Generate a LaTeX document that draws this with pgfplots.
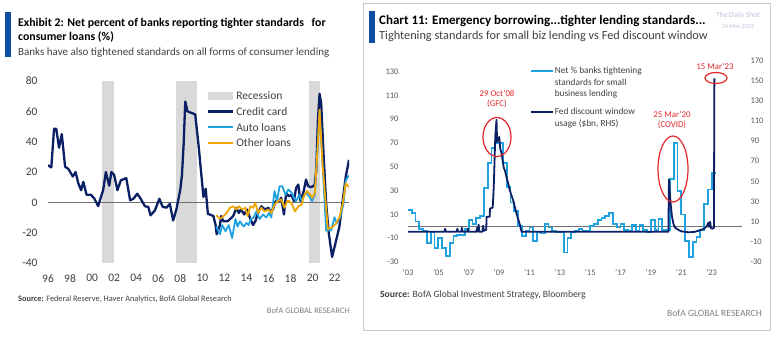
\documentclass[border=0pt]{standalone}
\usepackage{fontspec}
\setmainfont{Carlito}
\usepackage{pgfplots}
\pgfplotsset{compat=1.18}
\definecolor{navy}{HTML}{0B1F65}
\definecolor{sky}{HTML}{1FA3E0}
\definecolor{gold}{HTML}{F0A800}
\definecolor{recg}{HTML}{D9D9D9}
\definecolor{bofablue}{HTML}{0A4DA2}
\definecolor{annred}{HTML}{E3262B}
\definecolor{tickgray}{HTML}{404040}
\definecolor{rtick}{HTML}{595959}
\definecolor{zerogray}{HTML}{707070}
\definecolor{framegray}{HTML}{C8C8C8}
\definecolor{wmark}{HTML}{B8C4D6}
\pgfplotsset{
  recleg/.style={legend image code/.code={\fill[recg] (0bp,-4bp) rectangle (25bp,4bp);}},
  lineleg/.style={legend image code/.code={\draw[##1] (0bp,0bp) -- (25bp,0bp);}},
  rlineleg/.style={legend image code/.code={\draw[##1] (0bp,0bp) -- (22bp,0bp);}},
}
\newcommand{\lstrut}{\rule[-4bp]{0pt}{15.7bp}}
\newcommand{\rstrut}{\rule[-3bp]{0pt}{11.5bp}}
\newcommand{\rstrutx}{\rule[-9.5bp]{0pt}{18bp}}
\begin{document}
\begin{tikzpicture}
\path[use as bounding box] (0,0) rectangle (780bp,-337bp);
\fill[white] (0,0) rectangle (780bp,-337bp);
% ---------------- left panel ----------------
\fill[bofablue] (5bp,-12bp) rectangle (11bp,-57bp);
\node[anchor=base west, inner sep=0pt, font=\fontsize{11.8bp}{13bp}\selectfont\bfseries] at (18bp,-26bp) {Exhibit 2: Net percent of banks reporting tighter standards\hspace{5bp} for};
\node[anchor=base west, inner sep=0pt, font=\fontsize{11.8bp}{13bp}\selectfont\bfseries] at (18bp,-40bp) {consumer loans (\%)};
\node[anchor=base west, inner sep=0pt, text=tickgray, font=\fontsize{11bp}{13bp}\selectfont] at (18bp,-55bp) {Banks have also tightened standards on all forms of consumer lending};
\node[anchor=base west, inner sep=0pt, text=tickgray, font=\fontsize{8.3bp}{10bp}\selectfont] at (18bp,-301bp) {\textbf{Source:} Federal Reserve, Haver Analytics, BofA Global Research};
\node[anchor=base east, inner sep=0pt, text=gray, font=\fontsize{8.4bp}{10bp}\selectfont] at (350bp,-313bp) {BofA GLOBAL RESEARCH};

\begin{axis}[
  at={(48bp,-263bp)}, anchor=south west, scale only axis,
  width=301bp, height=182bp,
  xmin=1996, xmax=2023.3, ymin=-40, ymax=80,
  axis line style={draw=none}, major tick length=0pt,
  xtick={1996,1998,...,2022},
  xticklabels={96,98,00,02,04,06,08,10,12,14,16,18,20,22},
  ytick={-40,-20,0,20,40,60,80},
  yticklabels={-40,-20,0,20,40,60,80},
  tick label style={font=\fontsize{11.5bp}{13bp}\selectfont, text=tickgray},
  yticklabel style={xshift=-7bp},
  xticklabel style={yshift=-8bp},
  lineleg,
  legend cell align=left,
  legend style={at={(0.5282,0.962)}, anchor=north west, draw=none, fill=none,
    inner sep=0pt, outer sep=0pt, row sep=0pt, column sep=2bp,
    nodes={inner sep=0pt, outer sep=0pt, text depth={}},
    font=\fontsize{11.5bp}{13bp}\selectfont, text=tickgray},
]
\addplot[fill=recg, draw=none, recleg]
  coordinates {(2000.86,-40) (2000.86,80) (2002.0,80) (2002.0,-40)};
\addlegendentry{\lstrut Recession}
\addplot[forget plot, fill=recg, draw=none] coordinates {(2007.6,-40) (2007.6,80) (2009.47,80) (2009.47,-40)};
\addplot[forget plot, fill=recg, draw=none] coordinates {(2019.65,-40) (2019.65,80) (2020.64,80) (2020.64,-40)};
\addplot[forget plot, zerogray, line width=1bp] coordinates {(1996,0) (2023.3,0)};
\addplot[navy, line width=2.3bp, line join=round] table {
1996.0 24.5
1996.3 23
1996.55 48.5
1996.75 48.5
1997.0 36
1997.25 45
1997.55 23.5
1997.85 22
1998.25 17
1998.5 20
1998.75 12.5
1999.0 8
1999.2 13.5
1999.5 5
1999.9 5
2000.2 2.5
2000.55 -2.5
2000.8 3.5
2001.0 8
2001.25 20
2001.55 11
2001.75 20
2002.0 18
2002.3 8
2002.6 14.5
2003.1 16
2003.45 1.3
2003.75 2.4
2004.1 5.7
2004.4 2.4
2004.8 -2.6
2005.1 -3
2005.3 -8.6
2005.7 -5.3
2006.1 2.4
2006.4 -3
2006.75 -3.5
2007.05 -1
2007.35 -12
2007.65 -4.5
2008.0 8.5
2008.15 18
2008.3 38
2008.45 66.5
2008.65 60
2009.0 59
2009.35 58
2009.65 38
2009.95 15
2010.1 3.5
2010.3 9
2010.5 -7.5
2010.66 -8
2011.0 -9
2011.2 -15
2011.3 -21
2011.6 -15
2011.7 -9
2011.9 -12.5
2012.3 -12.5
2012.8 -9
2013.1 -3.6
2013.3 -7
2013.5 -4.7
2013.8 -8
2014.05 -4.7
2014.3 -10
2014.6 -15
2014.8 -12.5
2015.05 -7
2015.35 -2.6
2015.65 -4.7
2016.0 -3.6
2016.15 -6
2016.4 -4.7
2016.65 0.8
2016.95 0.8
2017.15 3
2017.4 -8
2017.6 6
2017.85 4
2018.1 5
2018.3 0.8
2018.5 9.5
2018.7 11.7
2018.9 0.8
2019.2 7.5
2019.4 15
2019.6 10.6
2019.85 10
2020.18 11.2
2020.33 21
2020.48 54
2020.63 71.6
2020.78 65
2020.99 32
2021.23 -1
2021.47 -20.6
2021.77 -36
2022.07 -27
2022.43 -16
2022.73 1.3
2023.0 16.7
2023.3 28
};
\addlegendentry{\lstrut Credit card}
\addplot[sky, line width=1.8bp, line join=round] table {
2011.27 -16
2011.6 -21
2011.8 -15
2012.1 -19
2012.4 -15
2012.7 -23.5
2013.0 -11
2013.2 -16
2013.4 -12.5
2013.75 -16
2014.0 -13.6
2014.2 -15
2014.4 -11
2014.65 -10
2014.9 -6
2015.2 -11
2015.5 -8
2015.8 -10
2016.05 -7
2016.25 -10
2016.55 7.4
2016.77 0.8
2017.0 10.6
2017.25 10.6
2017.55 5
2017.8 8.5
2018.1 6.3
2018.3 3
2018.5 0.8
2018.8 5
2019.0 0.8
2019.2 4
2019.4 6.3
2019.7 4
2019.95 0.8
2020.2 5
2020.45 35
2020.63 60
2020.93 21
2021.23 -18.6
2021.68 -18.6
2021.98 -9.8
2022.19 -14
2022.5 -9.8
2022.8 -1
2023.0 14.5
2023.3 17.8
};
\addlegendentry{\lstrut Auto loans}
\addplot[gold, line width=1.8bp, line join=round] table {
2011.27 -8.5
2011.57 -10.7
2011.8 -10
2012.2 -7
2012.5 -3.6
2012.8 -2.6
2013.1 -4.7
2013.3 -2.6
2013.6 -4.7
2013.9 -3.6
2014.1 -9
2014.35 -2.6
2014.6 -3.6
2014.8 -0.4
2015.05 -7
2015.35 -3.6
2015.65 -6
2016.0 -4.7
2016.25 -7
2016.55 -1.5
2016.85 0.8
2017.15 1.9
2017.45 -3.6
2017.7 0.8
2017.9 0.8
2018.15 -1.5
2018.4 -6
2018.7 -2.6
2019.0 -1.5
2019.2 4
2019.5 7.5
2019.8 5
2020.0 3
2020.2 6.3
2020.45 35
2020.63 61
2020.9 25
2021.38 -17.6
2021.77 -16.5
2022.13 -14
2022.43 -9.8
2022.73 -1
2023.0 12.4
2023.3 10
};
\addlegendentry{\lstrut Other loans}
\end{axis}

% ---------------- right panel ----------------
\draw[framegray, line width=0.8bp] (363bp,-3bp) rectangle (770bp,-330bp);
\fill[bofablue] (369bp,-11bp) rectangle (375bp,-43bp);
\node[anchor=base west, inner sep=0pt, font=\fontsize{13bp}{15bp}\selectfont\bfseries] at (379bp,-24.5bp) {Chart 11: Emergency borrowing...tighter lending standards...};
\node[anchor=base west, inner sep=0pt, text=tickgray, font=\fontsize{12.3bp}{14bp}\selectfont] at (379bp,-39bp) {Tightening standards for small biz lending vs Fed discount window};
\node[inner sep=0pt, text=wmark, font=\fontsize{7.5bp}{9bp}\selectfont] at (738bp,-15bp) {The Daily Shot};
\node[inner sep=0pt, text=wmark, font=\fontsize{6bp}{7bp}\selectfont] at (738bp,-27bp) {24-Mar-2023};
\node[anchor=base west, inner sep=0pt, text=tickgray, font=\fontsize{9.6bp}{11bp}\selectfont] at (380bp,-297bp) {\textbf{Source:} BofA Global Investment Strategy, Bloomberg};
\node[anchor=base east, inner sep=0pt, text=gray, font=\fontsize{9.6bp}{11bp}\selectfont] at (762bp,-316.5bp) {BofA GLOBAL RESEARCH};

\begin{axis}[
  at={(408bp,-265bp)}, anchor=south west, scale only axis,
  width=334bp, height=209bp,
  xmin=2003, xmax=2025, ymin=-32.5, ymax=143.1,
  axis line style={draw=none}, major tick length=0pt,
  xtick={2003,2005,...,2023},
  xticklabels={'03,'05,'07,'09,'11,'13,'15,'17,'19,'21,'23},
  ytick={-30,-10,...,130},
  yticklabels={-30,-10,10,30,50,70,90,110,130},
  tick label style={font=\fontsize{8.5bp}{10bp}\selectfont, text=rtick},
  yticklabel style={xshift=-6bp},
  xticklabel style={yshift=-1bp},
]
\addplot[forget plot, zerogray, line width=1bp] coordinates {(2003,0) (2025,0)};
\addplot[const plot, sky, line width=1.8bp] table {
2003.00 14
2003.25 11
2003.50 4
2003.75 -2
2004.00 -4
2004.25 -14
2004.50 -5
2004.75 -18
2005.00 -10
2005.25 -18
2005.50 -25
2005.75 -14
2006.00 -8
2006.25 -7
2006.50 -7
2006.75 -2
2007.00 5
2007.25 2
2007.50 7
2007.75 9
2008.00 32
2008.25 53
2008.50 66
2008.75 70
2009.00 70
2009.25 53
2009.50 33
2009.75 20
2010.00 13
2010.25 0
2010.50 -8
2010.75 -4
2011.00 -1
2011.25 -12
2011.50 -5
2011.75 -6
2012.00 2
2012.25 -1
2012.50 -4
2012.75 -5
2013.00 -5
2013.25 -22
2013.50 -10
2013.75 -5
2014.00 -4
2014.25 -2
2014.50 -4
2014.75 -4
2015.00 0
2015.25 2
2015.50 5
2015.75 7
2016.00 9
2016.25 11
2016.50 2
2016.75 -1
2017.00 2
2017.25 -3
2017.50 -4
2017.75 1
2018.00 -4
2018.25 1
2018.50 -3
2018.75 -5
2019.00 5
2019.25 -3
2019.50 6
2019.75 -3
2020.00 -3
2020.25 40
2020.50 70
2020.75 30
2021.00 10
2021.25 -12
2021.50 -26
2021.75 -13
2022.00 -9
2022.25 -3
2022.50 19
2022.75 31
2023.00 45
2023.30 45
};
\end{axis}

\begin{axis}[
  at={(408bp,-265bp)}, anchor=south west, scale only axis,
  width=334bp, height=209bp,
  xmin=2003, xmax=2025, ymin=-32.9, ymax=174.3,
  axis x line=none, axis y line*=right,
  axis line style={draw=none}, major tick length=0pt,
  ytick={-30,-10,...,170},
  yticklabels={-30,-10,10,30,50,70,90,110,130,150,170},
  tick label style={font=\fontsize{8.5bp}{10bp}\selectfont, text=rtick},
  yticklabel style={xshift=5bp},
  rlineleg,
  legend cell align=left,
  legend style={at={(0.3653,0.9557)}, anchor=north west, draw=none, fill=none,
    inner sep=0pt, outer sep=0pt, row sep=0pt, column sep=1bp,
    nodes={inner sep=0pt, outer sep=0pt, text depth={}},
    font=\fontsize{9.3bp}{11.5bp}\selectfont, text=tickgray},
]
\addlegendimage{sky, line width=1.8bp}
\addlegendentry{\rstrut Net \% banks tightening}
\addlegendimage{empty legend}
\addlegendentry{\rstrut standards for small}
\addlegendimage{empty legend}
\addlegendentry{\rstrutx business lending}
\addplot[navy, line width=1.8bp, line join=round] table {
2003.0 0
2005.4 0
2005.45 3
2005.5 0
2006.2 0
2006.25 3
2006.3 0
2006.5 0
2006.55 4
2006.6 0
2006.9 0
2006.95 3
2007.0 0
2007.5 0
2007.55 4
2007.6 0
2007.65 7
2007.7 0
2007.9 0
2007.95 6
2008.0 1
2008.15 2
2008.18 15
2008.38 15
2008.4 23
2008.58 24
2008.65 45
2008.75 95
2008.83 111
2008.87 89
2008.93 92
2009.01 94
2009.08 82
2009.16 78
2009.3 64
2009.4 60
2009.49 54
2009.6 48
2009.71 41
2009.82 36
2009.93 31
2010.05 24
2010.15 18
2010.27 12
2010.37 7
2010.48 0
2020.15 0
2020.19 52
2020.24 40
2020.3 28
2020.38 16
2020.48 8
2020.6 4
2020.8 2
2021.0 0.5
2021.5 -0.5
2021.9 0
2022.2 1.5
2022.5 3
2022.7 6
2022.78 9
2022.82 5
2022.9 10
2022.95 4
2023.05 3
2023.15 4
2023.18 152
};
\addlegendentry{\rstrut Fed discount window}
\addlegendimage{empty legend}
\addlegendentry{\rstrut usage (\$bn, RHS)}
\end{axis}

% annotations
\node[text=annred, font=\fontsize{8.8bp}{10bp}\selectfont] at (497bp,-93bp) {29 Oct'08};
\node[text=annred, font=\fontsize{8.8bp}{10bp}\selectfont] at (497bp,-104bp) {(GFC)};
\draw[annred, line width=1.2bp] (497bp,-137bp) ellipse [x radius=14bp, y radius=19.5bp];
\node[text=annred, font=\fontsize{8.8bp}{10bp}\selectfont] at (672bp,-114bp) {25 Mar'20};
\node[text=annred, font=\fontsize{8.8bp}{10bp}\selectfont] at (672bp,-125bp) {(COVID)};
\draw[annred, line width=1.2bp] (673bp,-169bp) ellipse [x radius=15bp, y radius=33bp];
\node[text=annred, font=\fontsize{8.8bp}{10bp}\selectfont] at (715bp,-66bp) {15 Mar'23};
\draw[annred, line width=1.2bp] (716bp,-78bp) ellipse [x radius=11bp, y radius=5.5bp];
\end{tikzpicture}
\end{document}
